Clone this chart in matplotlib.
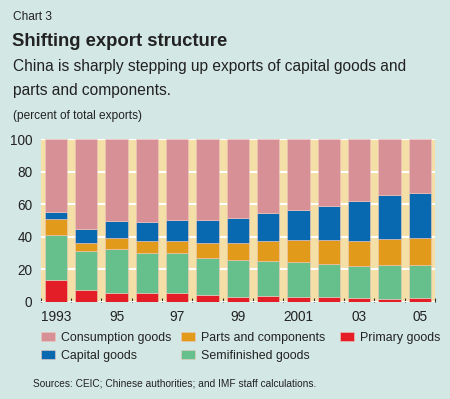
import matplotlib
matplotlib.use('Agg')
import matplotlib.pyplot as plt
import numpy as np

# stacked shares of total exports (percent)
years = ['1993', '1994', '1995', '1996', '1997', '1998', '1999',
         '2000', '2001', '2002', '2003', '2004', '2005']
tick_labels = ['1993', '', '95', '', '97', '', '99', '', '2001', '', '03', '', '05']
primary = [13.4, 6.9, 5.5, 5.5, 5.1, 3.9, 3.2, 3.7, 3.2, 2.8, 2.4, 1.8, 2.0]
semifinished = [27.8, 24.3, 27.1, 24.7, 24.9, 23.0, 22.3, 21.6, 21.3, 20.2, 19.4, 21.0, 20.8]
parts = [9.6, 5.1, 6.5, 7.3, 7.5, 9.0, 10.8, 12.2, 13.4, 15.3, 15.5, 15.9, 16.3]
capital = [4.2, 8.3, 10.6, 11.8, 12.7, 14.7, 15.5, 17.4, 18.6, 20.4, 24.9, 26.9, 27.6]
consumption = [100 - a - b - c - d for a, b, c, d in zip(primary, semifinished, parts, capital)]

bg = '#d3e7e4'
ink = '#222222'
plt.rcParams['font.family'] = ['Liberation Sans', 'DejaVu Sans']

fig = plt.figure(figsize=(4.5, 3.99), dpi=100, facecolor=bg)
ax = fig.add_axes([40.7 / 450, 1 - 301.7 / 399, (435 - 40.7) / 450, (301.7 - 139.3) / 399])
ax.set_facecolor('#f4dfa6')

x = np.arange(len(years))
series = [
    (primary, '#e41e26', 'Primary goods'),
    (semifinished, '#66c08c', 'Semifinished goods'),
    (parts, '#e19a1a', 'Parts and components'),
    (capital, '#0868b0', 'Capital goods'),
    (consumption, '#d69096', 'Consumption goods'),
]
bottom = np.zeros(len(years))
bars = {}
for vals, col, name in series:
    bars[name] = ax.bar(x, vals, bottom=bottom, width=0.73, color=col,
                        edgecolor='#f0c9c0', linewidth=0.4, zorder=3, label=name)
    bottom += np.array(vals)

ax.set_xlim(-0.5, len(years) - 0.5)
ax.set_ylim(0, 100)
ax.set_yticks([0, 20, 40, 60, 80, 100])
ax.yaxis.grid(True, color='white', linewidth=1.5, zorder=1)
ax.set_axisbelow(True)
for s in ax.spines.values():
    s.set_visible(False)
ax.tick_params(axis='y', length=0, labelsize=9.8, colors=ink, pad=6)

ax.set_xticks(x)
ax.set_xticklabels(tick_labels)
ax.tick_params(axis='x', length=0, labelsize=9.8, colors=ink, pad=6)
# small dark ticks between the bars
ax.set_xticks(np.arange(len(years) + 1) - 0.5, minor=True)
ax.tick_params(axis='x', which='minor', direction='in', length=3, width=0.8, color='#333333')

fig.text(13 / 450, 1 - 17 / 399, 'Chart 3', fontsize=8.6, color=ink, va='center')
fig.text(12 / 450, 1 - 41 / 399, 'Shifting export structure', fontsize=13.3,
         fontweight='bold', color=ink, va='center')
fig.text(13 / 450, 1 - 67 / 399, 'China is sharply stepping up exports of capital goods and',
         fontsize=11.2, color=ink, va='center')
fig.text(13 / 450, 1 - 91 / 399, 'parts and components.', fontsize=11.2, color=ink, va='center')
fig.text(13 / 450, 1 - 116 / 399, '(percent of total exports)', fontsize=8.6, color=ink, va='center')
fig.text(33 / 450, 1 - 383 / 399, 'Sources: CEIC; Chinese authorities; and IMF staff calculations.',
         fontsize=7.3, color=ink, va='center')

columns = [
    (['Consumption goods', 'Capital goods'], 41),
    (['Parts and components', 'Semifinished goods'], 181),
    (['Primary goods'], 340),
]
for names, xpos in columns:
    fig.legend([bars[n] for n in names], names, loc='upper left',
               bbox_to_anchor=(xpos / 450, 1 - 332 / 399), frameon=False, fontsize=8.9,
               handlelength=1.1, handleheight=0.7, handletextpad=0.55,
               labelspacing=0.45, borderaxespad=0, borderpad=0, labelcolor=ink)

fig.savefig('out.png', dpi=100, facecolor=bg)
